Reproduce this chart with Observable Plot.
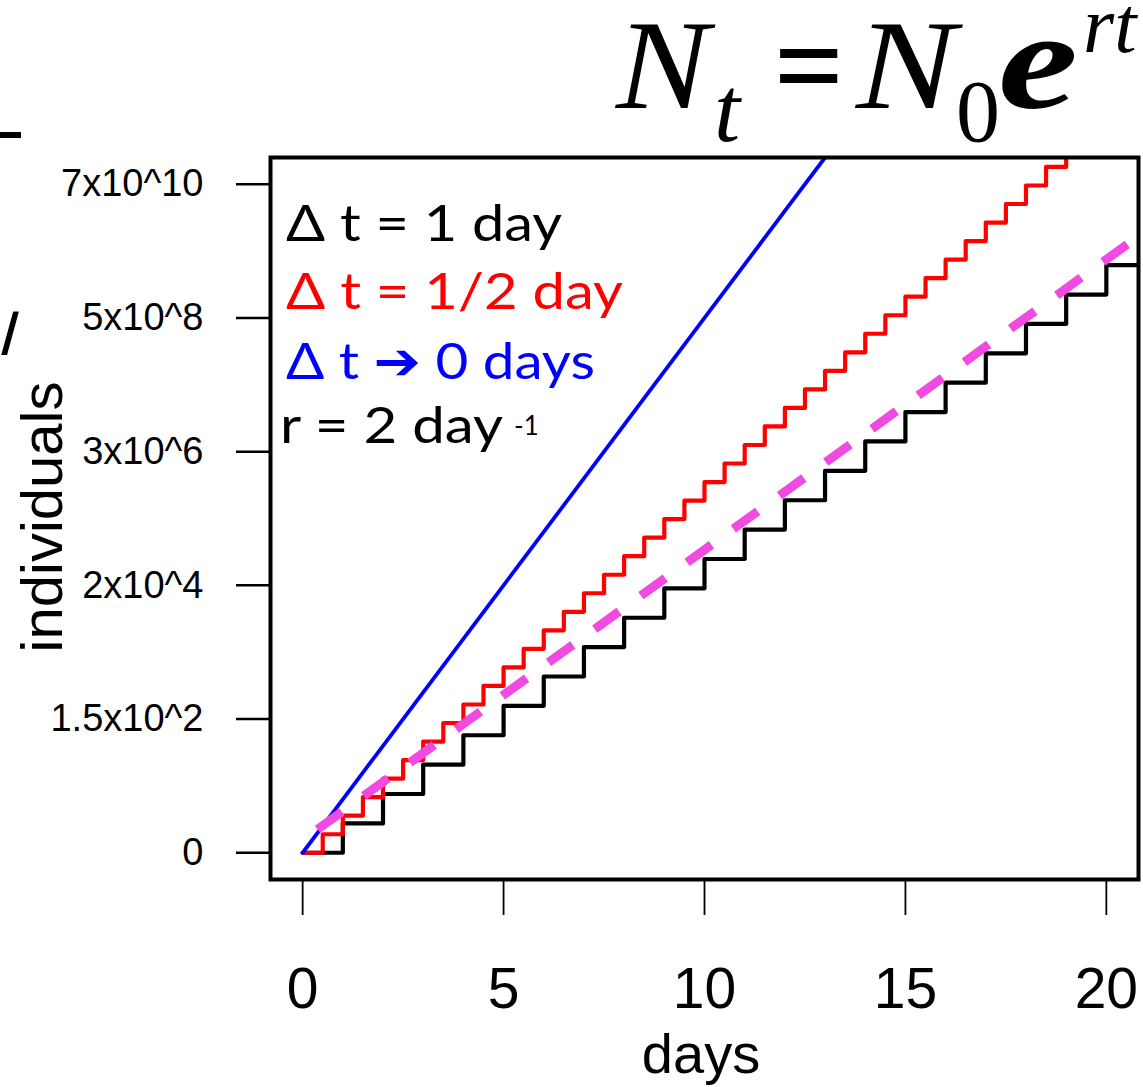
<!DOCTYPE html>
<html><head><meta charset="utf-8">
<script src="https://cdn.jsdelivr.net/npm/d3@7"></script>
<script src="https://cdn.jsdelivr.net/npm/@observablehq/plot@0.6"></script>
<style>
html,body{margin:0;padding:0;background:#fff;}
#chart{position:relative;width:1143px;height:1087px;overflow:hidden;}
</style></head><body><div id="chart"></div>
<script>
// ---- data ----
const daysBlack = [0,1,2,3,4,5,6,7,8,9,10,11,12,13,14,15,16,17,18,19,20,21];
const nBlack = [1,3,9,27,81,243,729,2187,6561,19683,59049,177147,531441,1594323,4782969,14348907,43046721,129140163,387420489,1162261467,3486784401,10460353203];
const daysRed = [0,0.5,1,1.5,2,2.5,3,3.5,4,4.5,5,5.5,6,6.5,7,7.5,8,8.5,9,9.5,10,10.5,11,11.5,12,12.5,13,13.5,14,14.5,15,15.5,16,16.5,17,17.5,18,18.5,19,19.5,20];
const nRed = [1,2,4,8,16,32,64,128,256,512,1024,2048,4096,8192,16384,32768,65536,131072,262144,524288,1048576,2097152,4194304,8388608,16777216,33554432,67108864,134217728,268435456,536870912,1073741824,2147483648,4294967296,8589934592,17179869184,34359738368,68719476736,137438953472,274877906944,549755813888,1099511627776];
const daysBlue = [0,1,2,3,4,5,6,7,8,9,10,11,12,13,14];
const nBlue = [1,7.389,54.598,403.43,2980.96,22026.5,162754.8,1202604,8886111,65659969,485165195,3584912846,26489122130,195729609429,1446257064291];
const daysFit = [0.37,21];
const nFit = [2.4,1.28e10];
const xTicks = [0,5,10,15,20];
const yTicks = [1,148.41,22026.47,3269017.37,485165195.4,72004899337.4];
const yTickLabels = ["0","1.5x10^2","2x10^4","3x10^6","5x10^8","7x10^10"];
const legendText = ["\u0394 t = 1 day","\u0394 t = 1/2 day","\u0394 t \u2794 0 days","r = 2 day"];
const legendColor = ["#000000","#ff0000","#0000ff","#000000"];
const xLabel = "days", yLabel = "individuals";

const toRows = (ds, ns) => ds.map((d,i) => ({day:d, n:ns[i]}));
const black = toRows(daysBlack, nBlack);
const red = toRows(daysRed, nRed);
const blue = toRows(daysBlue, nBlue);
const fit = toRows(daysFit, nFit);

const plot = Plot.plot({
  width:1143, height:1087,
  marginLeft:270, marginRight:5, marginTop:157, marginBottom:208,
  style:{background:"white", fontFamily:"'Liberation Sans', Arial, sans-serif", color:"black", overflow:"hidden"},
  x:{domain:[-0.8,20.8], ticks:xTicks, tickSize:36, tickPadding:52, tickFormat:d=>String(d), label:null},
  y:{type:"log", domain:[0.3679,1.957e11], ticks:yTicks, tickSize:34, tickPadding:33,
     tickFormat:d=>yTickLabels[yTicks.indexOf(d)], label:null},
  marks:[
    Plot.line(black,{x:"day",y:"n",curve:"step-after",stroke:"black",strokeWidth:4.2,clip:true}),
    Plot.line(red,{x:"day",y:"n",curve:"step-after",stroke:"#ff0000",strokeWidth:4.2,clip:true}),
    Plot.line(blue,{x:"day",y:"n",stroke:"#0000ff",strokeWidth:3.8,clip:true}),
    Plot.line(fit,{x:"day",y:"n",stroke:"#f04ae0",strokeWidth:9,strokeDasharray:"30,27",strokeLinecap:"butt",clip:true}),
    Plot.frame({stroke:"black",strokeWidth:4})
  ]
});
document.getElementById("chart").appendChild(plot);

const svg = d3.select(plot);
svg.selectAll('[aria-label^="x-axis"] text').style("font-size","57px").style("fill","black");
svg.selectAll('[aria-label^="y-axis"] text').style("font-size","38px").style("fill","black");
svg.selectAll('[aria-label^="x-axis"] line, [aria-label^="x-axis"] path').style("stroke","black").style("stroke-width","1.8px");
svg.selectAll('[aria-label^="y-axis"] line, [aria-label^="y-axis"] path').style("stroke","black").style("stroke-width","2.5px");

const sans = "'Liberation Sans', Arial, sans-serif";
// axis titles
svg.append("text").attr("x",701).attr("y",1073).attr("text-anchor","middle")
  .style("font-family",sans).style("font-size","56px").text(xLabel);
svg.append("text").attr("transform","translate(62,517) rotate(-90)").attr("text-anchor","middle")
  .style("font-family",sans).style("font-size","58px").text(yLabel);

// legend
const geo = "Lato, 'DejaVu Sans', sans-serif";
const legX = [286,286,286,280];
const legY = [241,309,379,443];
const legW = [276,337,309,223];
legendText.forEach((t,i) => {
  svg.append("text").attr("x",legX[i]).attr("y",legY[i]).attr("fill",legendColor[i])
    .attr("text-anchor","start")
    .attr("textLength",legW[i]).attr("lengthAdjust","spacingAndGlyphs")
    .style("font-family",geo).style("font-size","51px").text(t);
});
svg.append("text").attr("x",514).attr("y",435).attr("fill","black").attr("text-anchor","start")
  .style("font-family",geo).style("font-size","26px").text("-1");

// title  N_t = N_0 e^{rt}
const serif = "'Liberation Serif', 'Times New Roman', serif";
const T = (x,y,size,txt,italic,bold,len) => {
  const el = svg.append("text").attr("x",x).attr("y",y)
  .attr("text-anchor","start")
  .style("font-family",serif).style("font-size",size+"px")
  .style("font-style",italic?"italic":"normal").style("font-weight",bold?"bold":"normal").text(txt);
  if (len) el.attr("textLength",len).attr("lengthAdjust","spacingAndGlyphs");
  return el;
};
T(616,108,128,"N",true,false,93);
T(714,141,94,"t",true,false);
T(774,108,128,"=",false,true,70);
T(856,108,128,"N",true,false,100);
T(956,141,88,"0",false,false);
T(998,108,140,"e",true,true,80);
T(1083,52,80,"rt",true,false);

// cropped fragments at left edge
svg.append("rect").attr("x",0).attr("y",132).attr("width",21).attr("height",6).attr("fill","black");
svg.append("text").attr("x",2).attr("y",354).attr("text-anchor","start")
  .attr("stroke","black").attr("stroke-width",1.2)
  .style("font-family",sans).style("font-size","58px").text("/");
</script></body></html>
